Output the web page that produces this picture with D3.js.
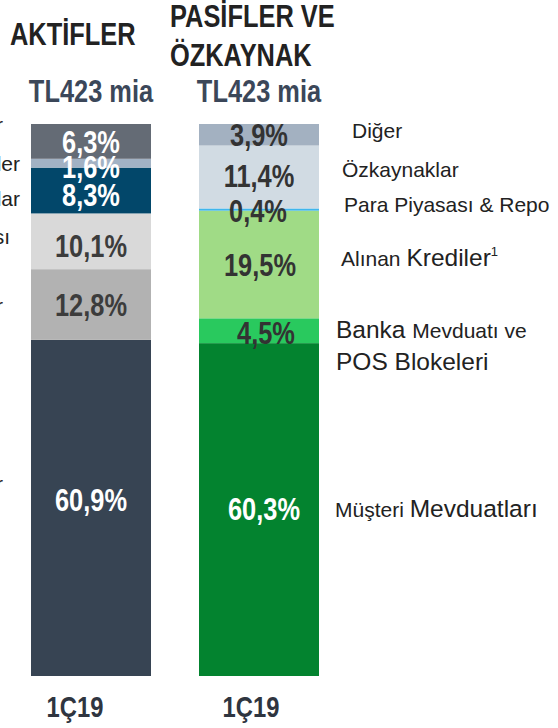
<!DOCTYPE html>
<html>
<head>
<meta charset="utf-8">
<script src="https://cdn.jsdelivr.net/npm/d3@7"></script>
<style>
  body { margin: 0; background: #fff; }
  text { font-family: "Liberation Sans", Arial, sans-serif; }
  .reg { fill: #222; }
</style>
</head>
<body>
<svg id="chart" width="558" height="728"></svg>
<script>
// values, bottom segment first
const periods = ["1Ç19", "1Ç19"];
const titles = [["AKTİFLER"], ["PASİFLER VE", "ÖZKAYNAK"]];
const totals = ["TL423 mia", "TL423 mia"];

const assetItems = ["Krediler", "Menkul Değerler", "Bankalar Arası", "Zorunlu Karşılıklar", "İştirakler", "Diğer"];
const assetValues = [60.9, 12.8, 10.1, 8.3, 1.6, 6.3];

const liabItems = ["Müşteri Mevduatları", "Banka Mevduatı ve\nPOS Blokeleri", "Alınan Krediler", "Para Piyasası & Repo", "Özkaynaklar", "Diğer"];
const liabNotes = ["", "", "1", "", "", ""];
const liabValues = [60.3, 4.5, 19.5, 0.4, 11.4, 3.9];

// colours
const assetColors = ["#374453", "#b2b2b2", "#d9d9d9", "#02476a", "#a2b2c4", "#646b75"];
const assetText = ["#fff", "#3c3c3c", "#3c3c3c", "#fff", "#fff", "#fff"];
const liabColors = ["#03832f", "#29c95e", "#a0db86", "#3fb6ec", "#d1dbe3", "#a3b1c1"];
const liabText = ["#fff", "#333", "#333", "#333", "#333", "#333"];

// small hand nudges for the labels (dx, dy)
const assetValNudge = [[0, -8], [0, 0], [0, 5], [0, 4], [0, 4], [0, 0]];
const liabValNudge = [[5, -1], [7, 2], [1, 0], [-1, 1], [0, -1], [0, 0]];
const liabLegNudge = [[-6, 7], [-5, 7], [0, 2], [3, 2], [1, 0], [11, 3]];
const assetLegEnd = [3, 3, 10, 20, 20, 3];
const assetLegDy = [-17, 8.5, 3, 15, 7.5, -9.5];

const squeeze = 0.82; // the bold type in the source is a narrow face

const svg = d3.select("#chart");
const fmt = d3.formatLocale({ decimal: ",", thousands: ".", grouping: [3], currency: ["", ""] }).format(".1f");

const x = d3.scaleBand().domain([0, 1]).range([31, 319]).paddingInner(0.2857).paddingOuter(0);
const y = d3.scaleLinear().domain([0, 100]).range([676, 124]);

function stackUp(values) {
  let acc = 0;
  return values.map((v, i) => { const s = acc; acc += v; return { i, v, s, e: acc }; });
}

function narrow(sel, px, py, size, fill, anchor) {
  return sel.append("text")
    .attr("transform", `translate(${px},${py}) scale(${squeeze},1)`)
    .attr("text-anchor", anchor || "start")
    .attr("font-weight", "bold")
    .attr("font-size", size)
    .attr("fill", fill);
}

const sets = [
  { values: assetValues, colors: assetColors, text: assetText, nudge: assetValNudge },
  { values: liabValues, colors: liabColors, text: liabText, nudge: liabValNudge }
];

sets.forEach((set, k) => {
  const g = svg.append("g");
  const segs = stackUp(set.values);
  g.selectAll("rect")
    .data(segs)
    .enter()
    .append("rect")
    .attr("x", x(k))
    .attr("width", x.bandwidth())
    .attr("y", d => y(d.e))
    .attr("height", d => y(d.s) - y(d.e))
    .attr("fill", d => set.colors[d.i]);

  g.selectAll("text.val")
    .data(segs)
    .enter()
    .append("text")
    .attr("class", "val")
    .attr("transform", d => {
      const cx = x(k) + x.bandwidth() / 2 + set.nudge[d.i][0];
      const cy = (y(d.s) + y(d.e)) / 2 + set.nudge[d.i][1];
      return `translate(${cx},${cy}) scale(${squeeze},1)`;
    })
    .attr("dy", "0.36em")
    .attr("text-anchor", "middle")
    .attr("font-weight", "bold")
    .attr("font-size", 31)
    .attr("fill", d => set.text[d.i])
    .text(d => fmt(d.v) + "%");

  // total above bar
  narrow(svg, x(k) + x.bandwidth() / 2, y(100) - 22, 31, "#3b4759", "middle").text(totals[k]);

  // period below bar
  narrow(svg, x(k) + x.bandwidth() / 2 + (k === 0 ? -16 : -8), y(0) + 41, 29, "#2f3540", "middle").text(periods[k]);
});

// headings
narrow(svg, x(0) - 21, 45, 31, "#222").text(titles[0][0]);
titles[1].forEach((t, j) => {
  narrow(svg, x(1) - 29, 27 + j * 39, 31, "#222").text(t);
});

// right legend
const bigWords = new Set(["Krediler", "Banka", "POS", "Blokeleri", "Mevduatları"]);
const liabSegs = stackUp(liabValues);
const legX = x(1) + x.bandwidth() + 22;
liabSegs.forEach(d => {
  const lines = liabItems[d.i].split("\n");
  const cy = (y(d.s) + y(d.e)) / 2 + liabLegNudge[d.i][1];
  lines.forEach((line, j) => {
    const t = svg.append("text")
      .attr("class", "reg")
      .attr("x", legX + liabLegNudge[d.i][0])
      .attr("y", cy + j * 32);
    line.split(" ").forEach((w, n, arr) => {
      t.append("tspan")
        .attr("font-size", bigWords.has(w) ? 24.5 : 21)
        .text(w + (n < arr.length - 1 ? " " : ""));
    });
    if (liabNotes[d.i] && j === lines.length - 1) {
      t.append("tspan").attr("font-size", 13).attr("dy", -10).text(liabNotes[d.i]);
    }
  });
});

// left legend, mostly outside the frame
const assetSegs = stackUp(assetValues);
svg.selectAll("text.aleg")
  .data(assetSegs)
  .enter()
  .append("text")
  .attr("class", "reg aleg")
  .attr("x", d => assetLegEnd[d.i])
  .attr("y", d => (y(d.s) + y(d.e)) / 2 + assetLegDy[d.i])
  .attr("text-anchor", "end")
  .attr("font-size", 21)
  .text(d => assetItems[d.i]);
</script>
</body>
</html>
